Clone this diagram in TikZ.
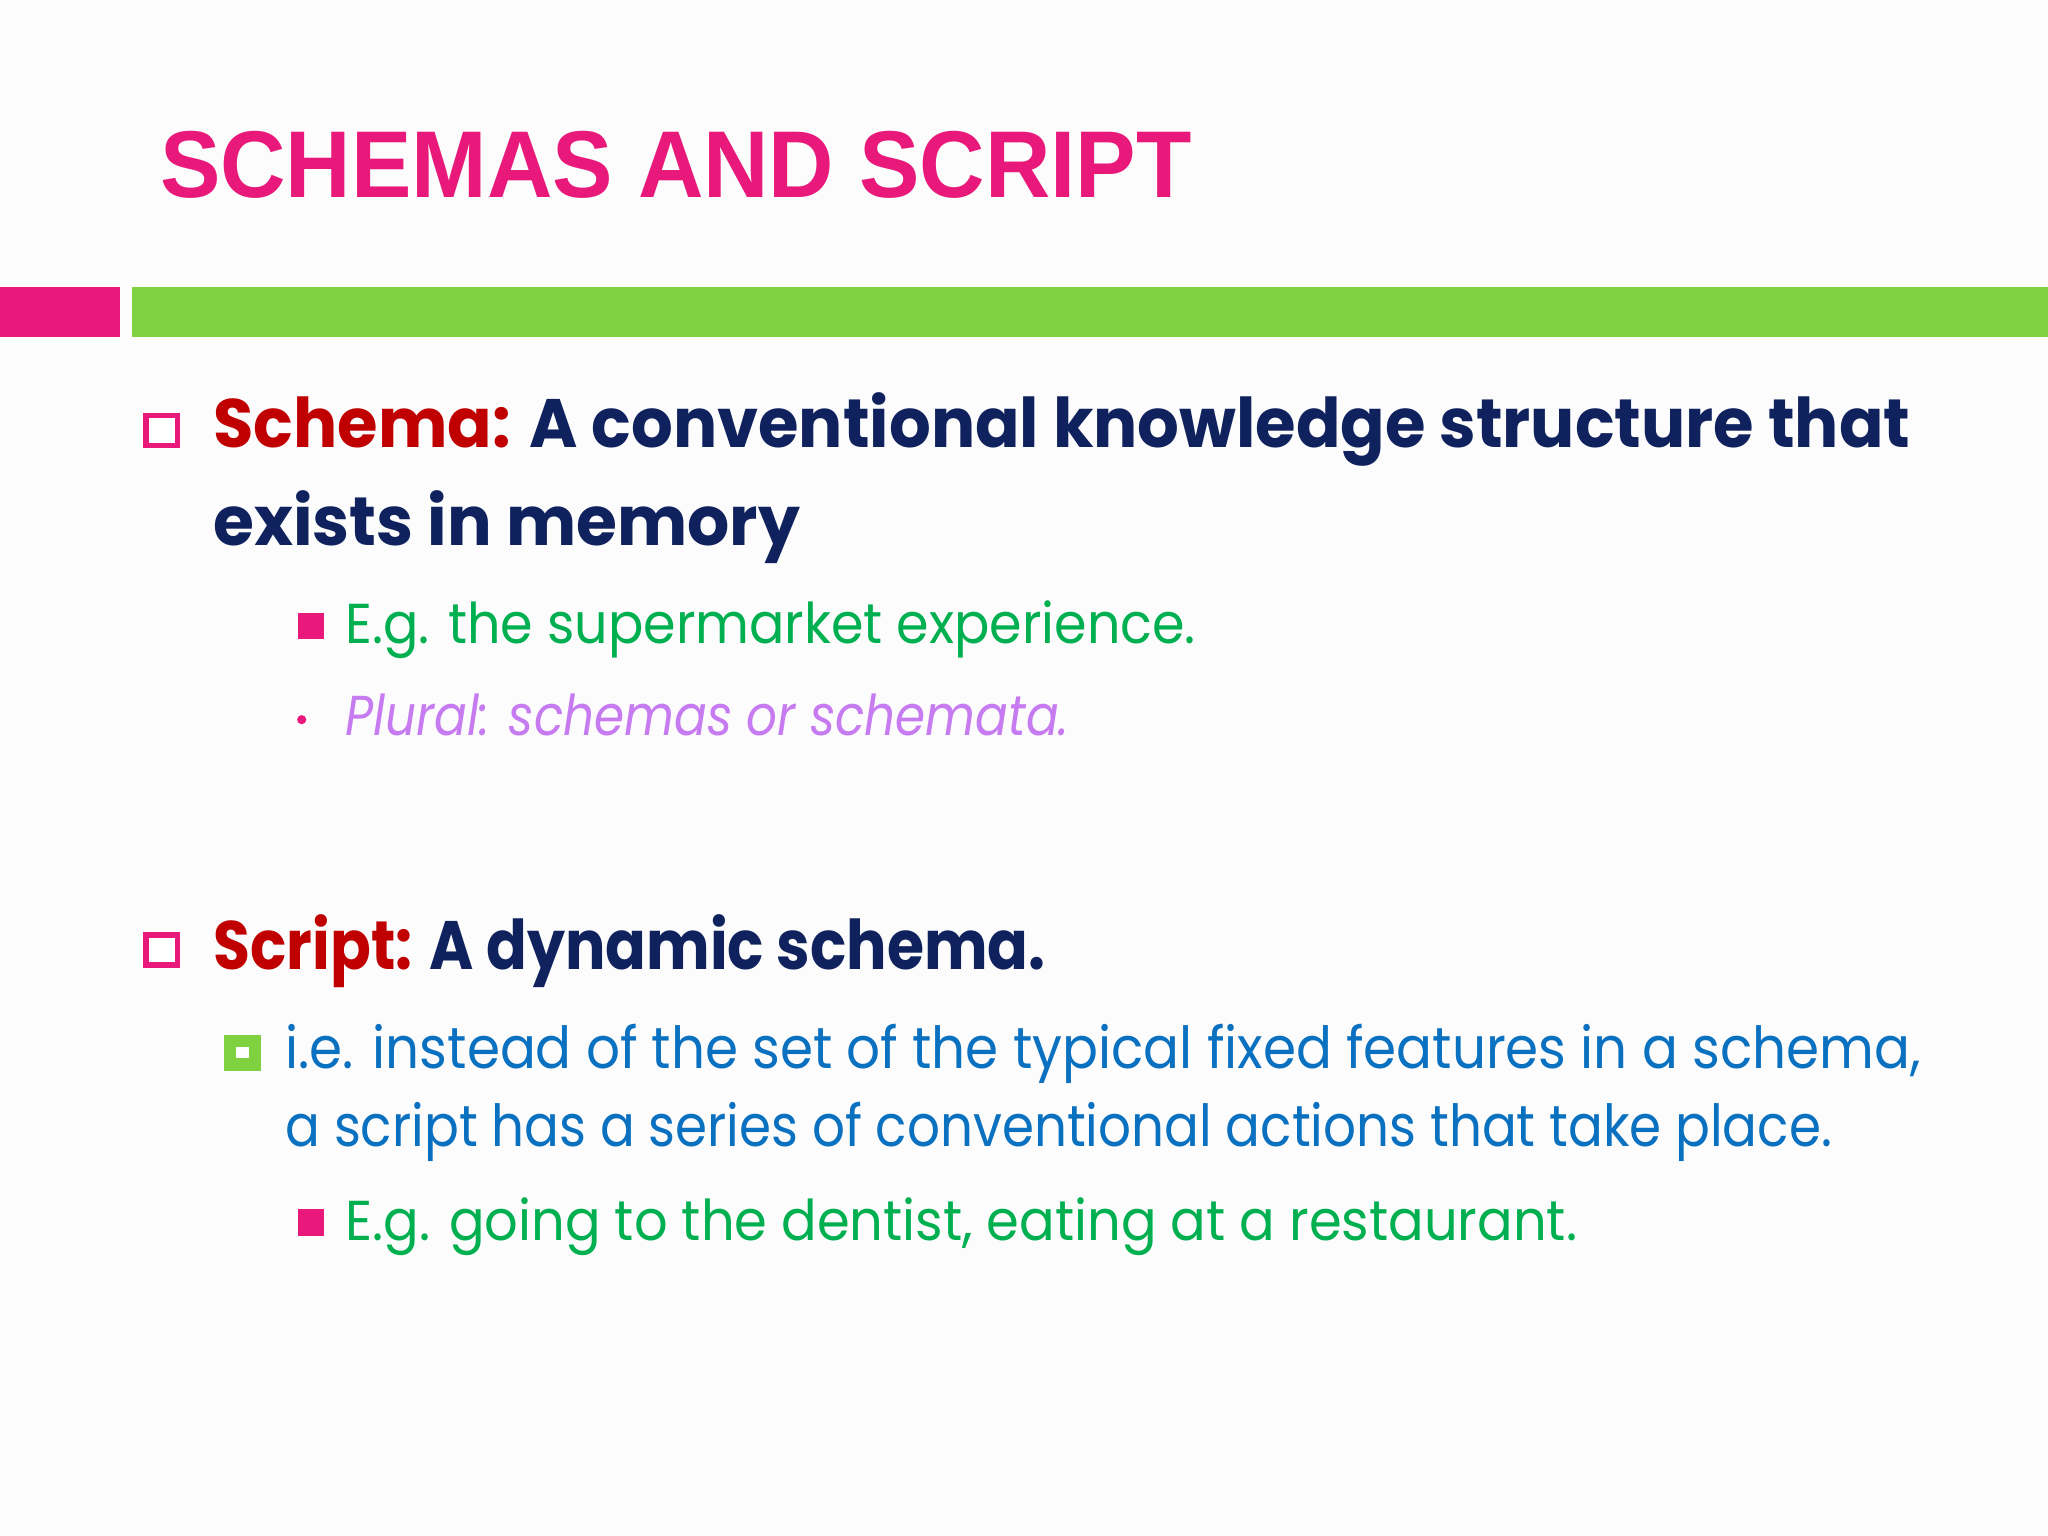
\documentclass[tikz,border=0pt]{standalone}
\usepackage{fontspec}
\setmainfont{Poppins}
\newfontfamily\titlefont{Liberation Sans}
\definecolor{tpink}{HTML}{E8197A}
\definecolor{bgreen}{HTML}{7FD13F}
\definecolor{dred}{HTML}{C00000}
\definecolor{navy}{HTML}{10225E}
\definecolor{tgreen}{HTML}{00B050}
\definecolor{purp}{HTML}{C77BF0}
\definecolor{tblue}{HTML}{0A70C0}
\newcommand{\fitw}[2]{\resizebox{#1\dimexpr0.01306cm\relax}{\height}{#2}}
\tikzset{txt/.style={anchor=base west,inner sep=0pt},
  hsq/.style={draw=#1,line width=2.2pt,fill=white}}
\begin{document}
\begin{tikzpicture}[x=0.01306cm,y=-0.01306cm]
\useasboundingbox[fill=white!99!black] (0,0) rectangle (1568,1176);
\fill[tpink] (0,220) rectangle (92,258);
\fill[bgreen] (101,220) rectangle (1568,258);
\node[txt,font=\titlefont\fontsize{27}{32}\selectfont\bfseries,text=tpink] (title) at (122,151) {\fitw{790}{SCHEMAS AND SCRIPT}};
\draw[hsq=tpink,line width=1.6pt] (112,318) rectangle (136,341);
\node[txt,font=\fontsize{19.5}{24}\selectfont\bfseries,text=navy] (l1) at (163,343) {\fitw{1299}{\textcolor{dred}{Schema:} A conventional knowledge structure that}};
\node[txt,font=\fontsize{19.5}{24}\selectfont\bfseries,text=navy] (l2) at (163,418) {\fitw{449}{exists in memory}};
\fill[tpink] (228,469) rectangle (248,489);
\node[txt,font=\fontsize{16}{20}\selectfont,text=tgreen] (l3) at (264,493) {\fitw{651}{E.g. the supermarket experience.}};
\fill[tpink] (231,551) circle (3.5);
\node[txt,font=\fontsize{16}{20}\selectfont\itshape,text=purp] (l4) at (264,563) {\fitw{554}{Plural: schemas or schemata.}};
\draw[hsq=tpink,line width=1.6pt] (112,716) rectangle (136,739);
\node[txt,font=\fontsize{19.5}{24}\selectfont\bfseries,text=navy] (l5) at (163,742) {\fitw{637}{\textcolor{dred}{Script:} A dynamic schema.}};
\draw[hsq=bgreen,line width=3.5pt] (176,797) rectangle (195,815);
\node[txt,font=\fontsize{16.5}{20}\selectfont,text=tblue] (l6) at (218,818) {\fitw{1252}{i.e. instead of the set of the typical fixed features in a schema,}};
\node[txt,font=\fontsize{16.5}{20}\selectfont,text=tblue] (l7) at (218,878) {\fitw{1184}{a script has a series of conventional actions that take place.}};
\fill[tpink] (228,926) rectangle (248,946);
\node[txt,font=\fontsize{16}{20}\selectfont,text=tgreen] (l8) at (264,950) {\fitw{943}{E.g. going to the dentist, eating at a restaurant.}};
\end{tikzpicture}
\end{document}
